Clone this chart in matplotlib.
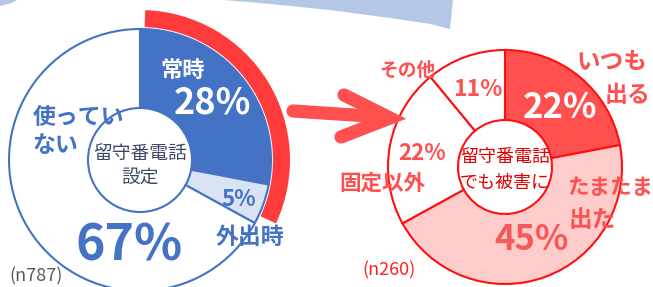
import matplotlib
matplotlib.use("Agg")
import matplotlib.pyplot as plt
from matplotlib.patches import Wedge, Polygon

plt.rcParams['font.family'] = ['Noto Sans CJK JP', 'DejaVu Sans']

# データ
left_labels = ['常時', '外出時', '使っていない']
left_values = [28, 5, 67]
left_colors = ['#4472C4', '#DAE3F3', '#FFFFFF']
left_n = 787

right_labels = ['いつも出る', 'たまたま出た', '固定以外', 'その他']
right_values = [22, 45, 22, 11]
right_colors = ['#FF5050', '#FFCCCC', '#FFFFFF', '#FFFFFF']
right_n = 260

W, H = 653, 287
BLUE = '#4472C4'
RED = '#FF5050'


def Y(y):
    # 画像座標(上から)をデータ座標に変換
    return H - y


fig = plt.figure(figsize=(W / 100, H / 100), dpi=100)
ax = fig.add_axes([0, 0, 1, 1])

# 背景の薄い青の帯
band = [(0, 0), (0, 6), (4, 5), (12, 3), (20, -2), (200, -2), (260, 3), (330, 10),
        (390, 18), (430, 24), (450, 29), (453, 0)]
ax.add_patch(Polygon([(x, Y(y)) for x, y in band], closed=True,
                     facecolor='#B4C7E7', edgecolor='none', zorder=0))

# 左の円グラフ
lc = (140, Y(160))
ax.pie(left_values, colors=left_colors, startangle=90, counterclock=False,
       center=lc, radius=131,
       wedgeprops=dict(width=79, edgecolor=BLUE, linewidth=1.5))
ax.add_patch(Wedge(lc, 150, -25, 88, width=17, facecolor='#FF3B3B',
                   edgecolor='none', zorder=3))

# 右の円グラフ
rc = (505, Y(167))
ax.pie(right_values, colors=right_colors, startangle=90, counterclock=False,
       center=rc, radius=117,
       wedgeprops=dict(width=70, edgecolor='#FF1010', linewidth=1.5))

# 矢印
ax.plot([293, 384], [Y(111), Y(117)], color=RED, lw=9.5,
        solid_capstyle='round', zorder=4)
ax.plot([344, 390, 341], [Y(95), Y(118), Y(137)], color=RED, lw=9.5,
        solid_capstyle='round', solid_joinstyle='miter', zorder=4)

# 左のテキスト
ax.text(183, Y(70), left_labels[0], color='white', fontsize=16,
        fontweight='bold', ha='center', va='center')
ax.text(212, Y(103), f'{left_values[0]}%', color='white', fontsize=26,
        fontweight='bold', ha='center', va='center')
ax.text(239, Y(199), f'{left_values[1]}%', color=BLUE, fontsize=16,
        fontweight='bold', ha='center', va='center')
ax.text(250, Y(237), left_labels[1], color=BLUE, fontsize=16.5,
        fontweight='bold', ha='center', va='center')
ax.text(33, Y(117), '使ってい', color=BLUE, fontsize=16.5,
        fontweight='bold', ha='left', va='center')
ax.text(33, Y(145), 'ない', color=BLUE, fontsize=16.5,
        fontweight='bold', ha='left', va='center')
ax.text(129, Y(246), f'{left_values[2]}%', color=BLUE, fontsize=36,
        fontweight='bold', ha='center', va='center')
ax.text(140, Y(153), '留守番電話', color='#3D4A66', fontsize=13.5,
        ha='center', va='center')
ax.text(140, Y(177), '設定', color='#3D4A66', fontsize=13.5,
        ha='center', va='center')
ax.text(9, Y(276), f'(n{left_n})', color='#595959', fontsize=13,
        ha='left', va='center')

# 右のテキスト
ax.text(612, Y(62), 'いつも', color=RED, fontsize=17,
        fontweight='bold', ha='center', va='center')
ax.text(628, Y(95), '出る', color=RED, fontsize=16.5,
        fontweight='bold', ha='center', va='center')
ax.text(560, Y(108), f'{right_values[0]}%', color='white', fontsize=25,
        fontweight='bold', ha='center', va='center')
ax.text(567, Y(187), 'たまたま', color=RED, fontsize=15.5,
        fontweight='bold', ha='left', va='center')
ax.text(569, Y(220), '出た', color=RED, fontsize=17,
        fontweight='bold', ha='left', va='center')
ax.text(531, Y(240), f'{right_values[1]}%', color='#F55A5A', fontsize=25,
        fontweight='bold', ha='center', va='center')
ax.text(422, Y(153), f'{right_values[2]}%', color=RED, fontsize=16,
        fontweight='bold', ha='center', va='center')
ax.text(382, Y(183), right_labels[2], color=RED, fontsize=15.5,
        fontweight='bold', ha='center', va='center')
ax.text(478, Y(90), f'{right_values[3]}%', color=RED, fontsize=16.5,
        fontweight='bold', ha='center', va='center')
ax.text(407, Y(70), right_labels[3], color=RED, fontsize=13.5,
        fontweight='bold', ha='center', va='center')
ax.text(505, Y(157), '留守番電話', color='#E00000', fontsize=13,
        ha='center', va='center')
ax.text(505, Y(183), 'でも被害に', color='#E00000', fontsize=13,
        ha='center', va='center')
ax.text(362, Y(270), f'(n{right_n})', color='#FF2020', fontsize=13,
        ha='left', va='center')

ax.set_xlim(0, W)
ax.set_ylim(0, H)
ax.set_aspect('equal')
ax.axis('off')

fig.savefig('out.png', dpi=100)
